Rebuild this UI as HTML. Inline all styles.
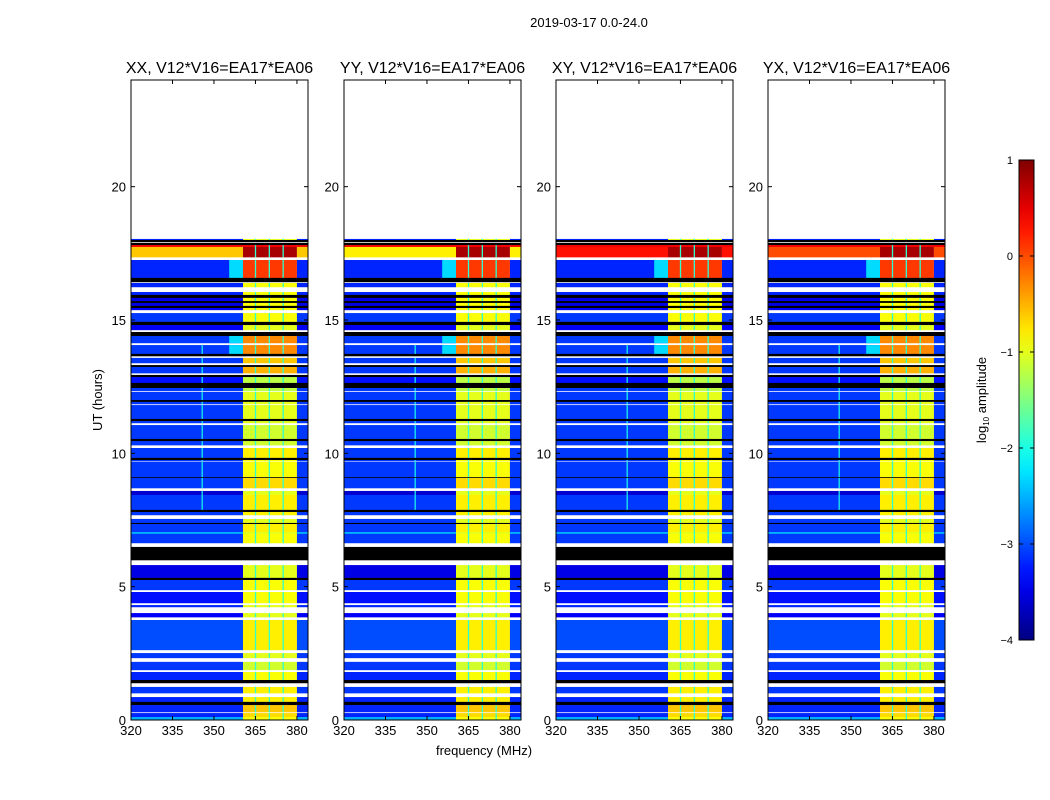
<!DOCTYPE html>
<html><head><meta charset="utf-8">
<style>
body{margin:0;background:#fff;}
svg{display:block;font-family:"Liberation Sans","DejaVu Sans",sans-serif;}
</style></head>
<body>
<svg id="fig" width="1050" height="800" viewBox="0 0 1050 800" xmlns="http://www.w3.org/2000/svg">
<rect width="1050" height="800" fill="#fff"/>
<text x="589" y="27" font-size="13" text-anchor="middle">2019-03-17 0.0-24.0</text>
<text x="484" y="755" font-size="13" text-anchor="middle">frequency (MHz)</text>
<text transform="translate(102,400) rotate(-90)" font-size="13" text-anchor="middle">UT (hours)</text>
<g id="panels"></g>
<g id="cbar"></g>
</svg>
<script>
// ---- data ----
const panelTitles = ["XX, V12*V16=EA17*EA06","YY, V12*V16=EA17*EA06","XY, V12*V16=EA17*EA06","YX, V12*V16=EA17*EA06"];
const xTicks = [320,335,350,365,380];
const yTicks = [0,5,10,15,20];
const cbarTicks = [1,0,-1,-2,-3,-4];
// time segment edges (hours, top to bottom)
const rowEdges = [18.04,18.0,17.93,17.89,17.81,17.74,17.36,17.25,16.58,16.43,16.39,16.24,16.05,15.94,15.83,15.71,15.64,15.53,15.45,15.38,15.26,14.93,14.81,14.63,14.55,14.4,14.14,14.06,13.73,13.65,13.58,13.39,13.31,13.24,13.01,12.94,12.86,12.64,12.45,12.34,12.3,12.0,11.93,11.85,11.81,11.29,11.21,11.14,11.06,10.54,10.46,10.31,10.2,9.83,9.75,9.71,9.68,9.11,9.08,8.7,8.59,8.44,7.88,7.8,7.69,7.54,7.39,7.35,7.05,6.98,6.64,6.49,6.0,5.81,5.33,5.25,4.88,4.8,4.39,4.31,4.24,4.01,3.86,3.75,2.63,2.51,2.33,2.18,1.88,1.8,1.5,1.39,1.24,1.01,0.86,0.68,0.56,0.3,0.26,0.11,0.0];
// log10 amplitude outside band (null = no data/white, "K" = flagged/black)
const rowLow = [-3.2,"K",null,"K",0.4,-0.6,null,-3.2,"K",null,-3.2,null,-3.2,"K",-3.5,"K",-3.5,"K",-3.4,null,-3.1,"K",-3.4,null,"K",-3.1,null,-3.1,"K",null,-3.1,null,"K",-3.1,null,"K",-3.3,"K",-3.1,null,-3.1,"K",-3.1,null,-3.1,"K",-3.1,null,-3.1,"K",-3.1,null,-3.1,"K",-3.1,null,-3.1,"K",-3.1,null,-3.6,-3.1,"K",-3.1,null,-3.1,"K",-3.1,-2.5,-3.1,null,"K",null,-3.5,"K",-3.1,null,-3.3,null,-3.2,null,-3.4,null,-3.0,null,-3.1,null,-3.1,null,-3.2,"K",null,-3.1,null,-3.2,"K",-3.2,null,-3.2,-2.5];
// log10 amplitude inside the 360.5-380 MHz band
const rowBand = [-1,0,0,0,0.4,0.8,0,0.1,0,0,-0.9,0,-0.9,0,-0.9,0,-0.9,0,-0.9,0,-0.9,0,-1.0,0,0,-0.3,0,-0.3,0,0,-0.6,0,0,-0.5,0,0,-1.2,0,-1.2,0,-1.0,0,-1.0,0,-1.0,0,-1.0,0,-1.1,0,-1.1,0,-0.8,0,-0.9,0,-0.9,0,-0.7,0,-1.0,-0.8,0,-0.8,0,-1.0,0,-0.8,-1.0,-0.9,0,0,0,-1.0,0,-0.9,0,-0.9,0,-1.0,0,-1.0,0,-0.8,0,-1.0,0,-1.1,0,-0.9,0,0,-0.8,0,-0.8,0,-0.6,0,-0.7,-0.9];
const panelTopLow = [-0.6,-0.8,0.3,0.0];
const bandEdges = [360.5,365,370,375,380];
const spurFreq = 345.7, spurT0 = 8.0, spurT1 = 14.2, spurLevel = -2.0;

// ---- layout ----
const panelX = [131,344,556,768];
const PW = 177, PT = 80, PB = 720;
const fmin = 320, fmax = 384, tmin = 0, tmax = 24;
const NS = "http://www.w3.org/2000/svg";
function jet(v){
  let x = (v+4)/5; x = Math.max(0,Math.min(1,x));
  const c = t => Math.max(0,Math.min(1,t));
  const r = c(Math.min(4*x-1.5, -4*x+4.5));
  const g = c(Math.min(4*x-0.5, -4*x+3.5));
  const b = c(Math.min(4*x+0.5, -4*x+2.5));
  return `rgb(${Math.round(r*255)},${Math.round(g*255)},${Math.round(b*255)})`;
}
function mk(tag, attrs, parent){
  const e = document.createElementNS(NS, tag);
  for (const k in attrs) e.setAttribute(k, attrs[k]);
  parent.appendChild(e); return e;
}
const panelsG = document.getElementById('panels');
panelX.forEach((x0, p) => {
  const xs = f => x0 + (f - fmin) / (fmax - fmin) * PW;
  const ys = t => PB - (t - tmin) / (tmax - tmin) * (PB - PT);
  const g = mk('g', {}, panelsG);
  
  
  for (let i = 0; i < rowLow.length; i++) {
    const y0 = ys(rowEdges[i]), y1 = ys(rowEdges[i+1]);
    const h = y1 - y0 + 0.3;
    let low = rowLow[i];
    if (low === null) continue;
    if (low === "K") {
      const r = mk('rect', {x:xs(fmin), y:y0, width:PW, height:h, fill:'#000'}, g);
      
      
      continue;
    }
    if (i === 5) low = panelTopLow[p];
    const band = rowBand[i];
    const r1 = mk('rect', {x:xs(fmin), y:y0, width:xs(bandEdges[0])-xs(fmin), height:h, fill:jet(low)}, g);
    
    
    if (band > -0.4 && low < -2.3) {
      mk('rect', {x:xs(355.5), y:y0, width:xs(bandEdges[0])-xs(355.5), height:h, fill:jet(-2.3)}, g);
    }
    const r2 = mk('rect', {x:xs(bandEdges[0]), y:y0, width:xs(bandEdges[4])-xs(bandEdges[0]), height:h, fill:jet(band)}, g);
    
    
    for (let k = 1; k < 4; k++) {
      mk('rect', {x:xs(bandEdges[k])-0.6, y:y0, width:1.3, height:h, fill:jet(Math.min(band,-1.9))}, g);
    }
    mk('rect', {x:xs(bandEdges[4]), y:y0, width:xs(fmax)-xs(bandEdges[4]), height:h, fill:jet(low)}, g);
    const mid = (rowEdges[i]+rowEdges[i+1])/2;
    if (mid > spurT0 && mid < spurT1) {
      mk('rect', {x:xs(spurFreq)-0.5, y:y0, width:1.2, height:h, fill:jet(spurLevel)}, g);
    }
  }
  // frame
  const fr = mk('rect', {x:x0, y:PT, width:PW, height:PB-PT, fill:'none', stroke:'#000', 'stroke-width':1}, g);
  
  
  const tt = mk('text', {x:x0+PW/2, y:PT-7, 'font-size':16, 'text-anchor':'middle'}, g);
  tt.textContent = panelTitles[p];
  
  
  xTicks.forEach(v => {
    const x = xs(v);
    mk('line', {x1:x, x2:x, y1:PB, y2:PB-4, stroke:'#000'}, g);
    mk('line', {x1:x, x2:x, y1:PT, y2:PT+4, stroke:'#000'}, g);
    const t = mk('text', {x:x, y:PB+15, 'font-size':13, 'text-anchor':'middle'}, g);
    t.textContent = v;
    
    
  });
  yTicks.forEach(v => {
    const y = ys(v);
    mk('line', {x1:x0, x2:x0+4, y1:y, y2:y, stroke:'#000'}, g);
    mk('line', {x1:x0+PW, x2:x0+PW-4, y1:y, y2:y, stroke:'#000'}, g);
    const t = mk('text', {x:x0-5, y:y+5, 'font-size':13, 'text-anchor':'end'}, g);
    t.textContent = v;
    
    
  });
});
// colorbar
const cb = document.getElementById('cbar');
const CX = 1019, CW = 15, CT = 160, CBB = 640, vmin = -4, vmax = 1;
const cy = v => CBB - (v - vmin) / (vmax - vmin) * (CBB - CT);
const defs = mk('defs', {}, cb);
const grad = mk('linearGradient', {id:'jetg', x1:0, y1:1, x2:0, y2:0}, defs);
for (let i = 0; i <= 20; i++) mk('stop', {offset: i/20, 'stop-color': jet(vmin + i/20*(vmax-vmin))}, grad);
const cr = mk('rect', {x:CX, y:CT, width:CW, height:CBB-CT, fill:'url(#jetg)', stroke:'#000'}, cb);


cbarTicks.forEach(v => {
  const y = cy(v);
  mk('line', {x1:CX, x2:CX+4, y1:y, y2:y, stroke:'#000'}, cb);
  mk('line', {x1:CX+CW, x2:CX+CW-4, y1:y, y2:y, stroke:'#000'}, cb);
  const t = mk('text', {x:CX-6, y:y+4, 'font-size':11, 'text-anchor':'end'}, cb);
  t.textContent = v < 0 ? '\u2212' + (-v) : String(v);
  
  
});
const cl = mk('text', {transform:'translate(986,400) rotate(-90)', 'font-size':13, 'text-anchor':'middle'}, cb);
cl.innerHTML = 'log<tspan font-size="8" dy="3">10</tspan><tspan dy="-3"> amplitude</tspan>';


</script>
</body></html>
